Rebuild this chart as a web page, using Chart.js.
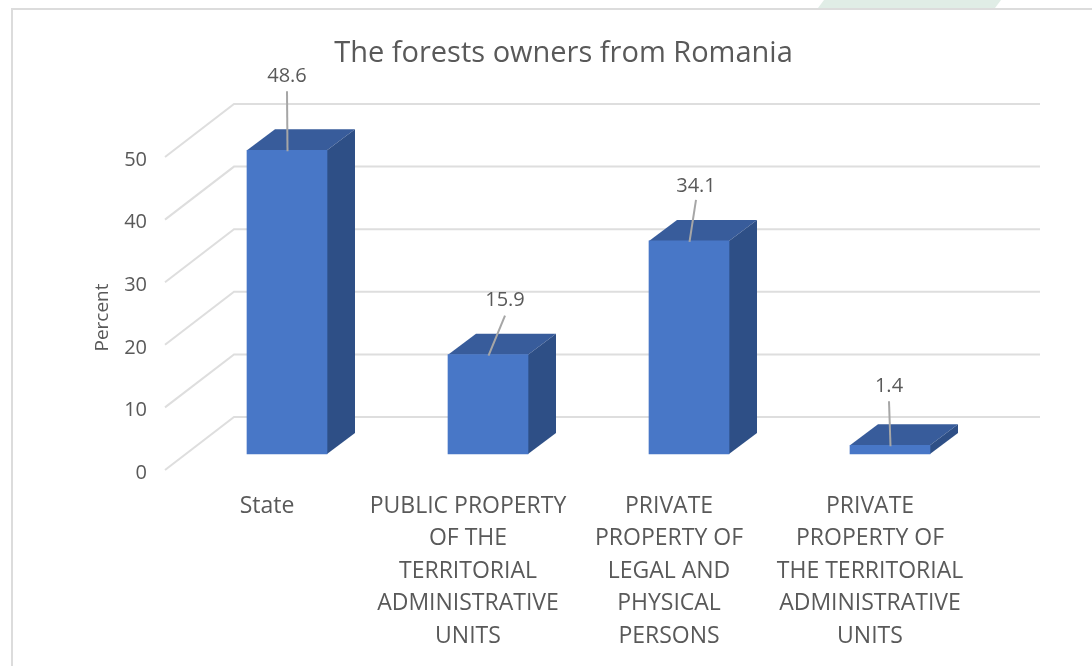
<!DOCTYPE html>
<html><head><meta charset="utf-8">
<style>html,body{margin:0;padding:0;background:#fff}#w{width:1092px;height:666px;position:relative}</style>
<script src="https://cdn.jsdelivr.net/npm/chart.js@4"></script>
</head><body><div id="w"><canvas id="c" width="1092" height="666"></canvas></div>
<script>
const categories = ["State",
  ["PUBLIC PROPERTY","OF THE","TERRITORIAL","ADMINISTRATIVE","UNITS"],
  ["PRIVATE","PROPERTY OF","LEGAL AND","PHYSICAL","PERSONS"],
  ["PRIVATE","PROPERTY OF","THE TERRITORIAL","ADMINISTRATIVE","UNITS"]];
const percentValues = [48.6, 15.9, 34.1, 1.4];
const yTickValues = [0, 10, 20, 30, 40, 50];
const chartTitle = "The forests owners from Romania";
const yAxisTitle = "Percent";

const FONT = '"Open Sans", sans-serif';
const TEXT = '#595959';
const DEPTH_X = 28, DEPTH_Y = 21;            // bar depth
const WALL_X0 = 165, WALL_X1 = 234, WALL_RIGHT = 1040, WALL_DY = 53, WALL_SHIFT = -3; // floor / wall
const LEADERS = [{dx:0,top:-59,lift:-74},{dx:17,top:-39,lift:-54},{dx:7,top:-41,lift:-55},{dx:-1,top:-44,lift:-59}];

const frame = {
  id:'frame',
  beforeDraw(ch){
    const c = ch.ctx; c.save();
    c.fillStyle='#fff'; c.fillRect(0,0,1092,666);
    c.fillStyle='#e0ede6';
    c.beginPath(); c.moveTo(824,0); c.lineTo(1001,0); c.lineTo(995,8); c.lineTo(818,8); c.closePath(); c.fill();
    c.strokeStyle='#dcdcdc'; c.lineWidth=2;
    c.beginPath(); c.moveTo(12,666); c.lineTo(12,9); c.lineTo(1092,9); c.stroke();
    c.restore();
  }
};
const walls = {
  id:'walls',
  // moves only the axis title block so "Percent" sits lower, as in the reference
  afterLayout(ch){ ch.scales.y.top += 57; },
  beforeDatasetsDraw(ch){
    const c = ch.ctx, s = ch.scales.y; c.save();
    c.strokeStyle='#dedede'; c.lineWidth=2;
    yTickValues.forEach(v=>{
      const y = s.getPixelForValue(v)+WALL_SHIFT;
      c.beginPath(); c.moveTo(WALL_X0,y); c.lineTo(WALL_X1,y-WALL_DY); c.lineTo(WALL_RIGHT,y-WALL_DY); c.stroke();
    });
    // 3D faces behind each front face
    ch.getDatasetMeta(0).data.forEach(b=>{
      const p = b.getProps(['x','y','base','width'],true);
      const l=p.x-p.width/2, r=p.x+p.width/2, t=p.y, bt=p.base;
      c.fillStyle='#385c9b';
      c.beginPath(); c.moveTo(l,t); c.lineTo(l+DEPTH_X,t-DEPTH_Y); c.lineTo(r+DEPTH_X,t-DEPTH_Y); c.lineTo(r,t); c.closePath(); c.fill();
      c.fillStyle='#2e4f86';
      c.beginPath(); c.moveTo(r,t); c.lineTo(r+DEPTH_X,t-DEPTH_Y); c.lineTo(r+DEPTH_X,bt-DEPTH_Y); c.lineTo(r,bt); c.closePath(); c.fill();
    });
    c.restore();
  }
};
const valueLabels = {
  id:'valueLabels',
  afterDatasetsDraw(ch){
    const c = ch.ctx; c.save();
    ch.getDatasetMeta(0).data.forEach((b,i)=>{
      const p = b.getProps(['x','y'],true), L = LEADERS[i];
      c.strokeStyle='#a6a6a6'; c.lineWidth=2;
      c.beginPath(); c.moveTo(p.x+0.5,p.y+1); c.lineTo(p.x+L.dx,p.y+L.top); c.stroke();
      c.fillStyle=TEXT; c.font='20px '+FONT; c.textAlign='center'; c.textBaseline='middle';
      c.fillText(percentValues[i].toFixed(1), p.x+L.dx, p.y+L.lift);
    });
    c.restore();
  }
};

new Chart(document.getElementById('c'),{
  type:'bar',
  data:{labels:categories,datasets:[{
    label:yAxisTitle,data:percentValues,yAxisID:'yBars',
    backgroundColor:'#4877c7',borderWidth:0,barThickness:80
  }]},
  plugins:[frame,walls,valueLabels],
  options:{
    responsive:false,animation:false,
    layout:{padding:{left:85,right:50,top:0,bottom:0}},
    plugins:{
      legend:{display:false},tooltip:{enabled:false},
      title:{display:true,text:chartTitle,color:TEXT,
        font:{family:FONT,size:29,weight:'normal',lineHeight:1.2},
        padding:{top:36,bottom:34.2}}
    },
    scales:{
      x:{
        grid:{display:false,drawTicks:false},border:{display:false},
        ticks:{color:TEXT,font:{family:FONT,size:23,lineHeight:1.415},padding:17,labelOffset:-20,
          autoSkip:false,maxRotation:0,minRotation:0},
        afterFit(a){a.height=193;}
      },
      y:{
        min:0,max:58.79,position:'left',
        grid:{display:false,drawTicks:false},border:{display:false},
        afterBuildTicks(a){a.ticks=yTickValues.map(v=>({value:v}));},
        ticks:{color:TEXT,font:{family:FONT,size:20},padding:39.5},
        title:{display:true,text:yAxisTitle,color:TEXT,font:{family:FONT,size:19},padding:{top:6,bottom:0}},
        afterFit(a){a.width=101.5;}
      },
      yBars:{
        min:-3.04,max:55.84,position:'right',
        grid:{display:false,drawTicks:false},border:{display:false},
        ticks:{display:false},
        afterFit(a){a.width=51.5;}
      }
    }
  }
});
</script></body></html>
